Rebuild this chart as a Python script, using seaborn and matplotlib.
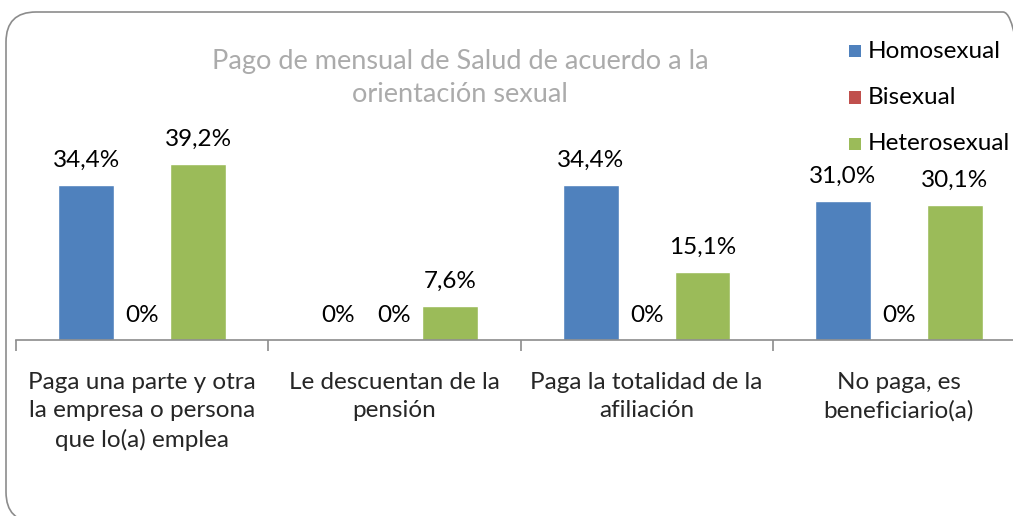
import pandas as pd
import numpy as np
import matplotlib.pyplot as plt
import seaborn as sns
from matplotlib.patches import FancyBboxPatch

# Datos del gráfico
categorias = ['Paga una parte y otra\nla empresa o persona\nque lo(a) emplea',
              'Le descuentan de la\npensión',
              'Paga la totalidad de la\nafiliación',
              'No paga, es\nbeneficiario(a)']
grupos = ['Homosexual', 'Bisexual', 'Heterosexual']
homosexual = [34.4, 0.0, 34.4, 31.0]
bisexual = [0.0, 0.0, 0.0, 0.0]
heterosexual = [39.2, 7.6, 15.1, 30.1]
colores = ['#4F81BD', '#C0504D', '#9BBB59']

df = pd.DataFrame({
    'categoria': categorias * 3,
    'grupo': np.repeat(grupos, len(categorias)),
    'valor': homosexual + bisexual + heterosexual,
})

sns.set_style('white')
plt.rcParams['font.family'] = ['Lato', 'DejaVu Sans']

fig = plt.figure(figsize=(10.13, 5.16), dpi=100)
W, H = 1013, 516
# Marco redondeado (en pulgadas)
marco = FancyBboxPatch((0.06, -0.06), 10.27, 5.10,
                       boxstyle='round,pad=0,rounding_size=0.3',
                       transform=fig.dpi_scale_trans, facecolor='none',
                       edgecolor='#8c8c8c', linewidth=1.2, zorder=0)
fig.patches.append(marco)

ax = fig.add_axes([16 / W, (H - 340) / H, 1009 / W, 315 / H])
ax.patch.set_alpha(0)
sns.barplot(data=df, x='categoria', y='valor', hue='grupo', palette=colores,
            width=0.665, gap=0, saturation=1, ax=ax, legend=False)

# Etiquetas de datos
for cont, serie in zip(ax.containers, [homosexual, bisexual, heterosexual]):
    etiquetas = ['0%' if v == 0 else f'{v:.1f}%'.replace('.', ',') for v in serie]
    ax.bar_label(cont, labels=etiquetas, padding=10, fontsize=17.5, color='black')

ax.set_ylim(0, 70)
ax.set_xlim(-0.5, 3.5)
ax.set_xlabel('')
ax.set_ylabel('')
ax.set_yticks([])
for s in ['top', 'right', 'left']:
    ax.spines[s].set_visible(False)
ax.spines['bottom'].set_color('#8c8c8c')
ax.spines['bottom'].set_linewidth(1.2)
ax.set_xticks(np.arange(-0.5, 4.0, 1.0), minor=True)
ax.tick_params(axis='x', which='both', bottom=True)
ax.tick_params(axis='x', which='minor', length=8, color='#8c8c8c', width=1.2, direction='out')
ax.tick_params(axis='x', which='major', length=0, pad=23, labelsize=17.5)
for lbl in ax.get_xticklabels():
    lbl.set_linespacing(1.42)

# Título
fig.text(460 / W, 1 - 78 / H, 'Pago de mensual de Salud de acuerdo a la\norientación sexual',
         ha='center', va='center', fontsize=19.5, color='#ababab', linespacing=1.45)

# Leyenda
for i, (g, c) in enumerate(zip(grupos, colores)):
    y = 1 - (51 + 46.5 * i) / H
    fig.patches.append(plt.Rectangle((849 / W, y - 6 / H), 12 / W, 12 / H,
                                     transform=fig.transFigure, facecolor=c, edgecolor='none'))
    fig.text(868 / W, y, g, ha='left', va='center', fontsize=17.5, color='black')

fig.savefig('out.png', dpi=100)
